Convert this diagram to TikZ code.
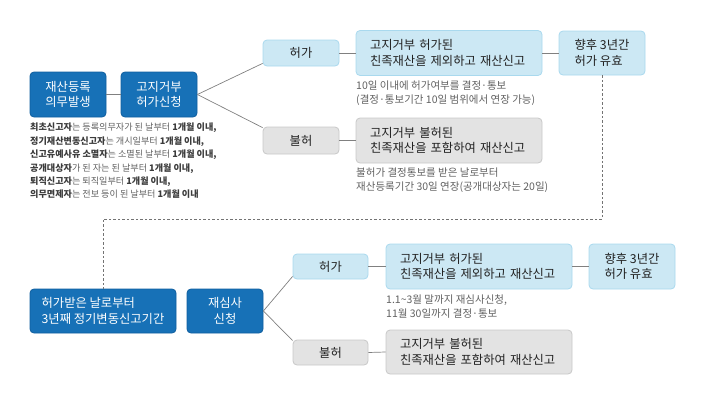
\documentclass[tikz,border=0pt]{standalone}
\usepackage{fontspec}
\setmainfont{Noto Sans CJK KR}
\usepackage{xcolor}
\usetikzlibrary{positioning}
\definecolor{boxblue}{HTML}{1771B7}
\definecolor{boxblueline}{HTML}{0F5E9E}
\definecolor{paleblue}{HTML}{CCE8F4}
\definecolor{paleblueline}{HTML}{A9D9EE}
\definecolor{palegray}{HTML}{E3E3E3}
\definecolor{palegrayline}{HTML}{C8C8C8}
\definecolor{notegray}{HTML}{606060}
\definecolor{boldgray}{HTML}{3C3C3C}
\definecolor{boxtext}{HTML}{222222}
\newcommand{\bt}[1]{{\bfseries\color{boldgray}#1}}

\begin{document}
\begin{tikzpicture}[x=1pt,y=-1pt,
 dark/.style={draw=boxblueline, fill=boxblue, text=white, rounded corners=4pt, line width=0.8pt, inner sep=0pt, minimum height=45pt, align=center, font=\fontsize{12.3}{15.5}\selectfont},
 pale/.style={draw=paleblueline, fill=paleblue, text=boxtext, rounded corners=4pt, line width=0.8pt, inner sep=0pt, align=left, font=\fontsize{12.3}{15.5}\selectfont},
 grey/.style={draw=palegrayline, fill=palegray, text=boxtext, rounded corners=4pt, line width=0.8pt, inner sep=0pt, align=left, font=\fontsize{12.3}{15.5}\selectfont},
 wide/.style={minimum width=186pt, minimum height=45pt, text width=158pt},
 note/.style={anchor=north west, inner sep=0pt, align=left, text=notegray, font=\fontsize{10.5}{14}\selectfont},
 link/.style={draw=gray, line width=0.7pt}]
 \useasboundingbox (0,0) rectangle (718,410); % page size
 % upper row
 \node (reg) at (68,94.5) [dark, minimum width=76pt]{재산등록\\의무발생};
 \node (appl) at (159,94.5) [dark, minimum width=76pt]{고지거부\\허가신청};
 \node (okA) at (301,53) [pale, minimum width=76pt, minimum height=26pt, align=center]{허가};
 \node (noA) at (301,140.5) [grey, minimum width=76pt, minimum height=27pt, align=center]{불허};
 \node (keepA) at (449,53) [pale, wide]{고지거부 허가된\\친족재산을 제외하고 재산신고};
 \node (validA) at (602,53) [pale, minimum width=86pt, minimum height=44pt]{향후 3년간\\허가 유효};
 \node (addA) at (449,140.5) [grey, wide]{고지거부 불허된\\친족재산을 포함하여 재산신고};
 \node (noteA) at (356,81) [note]{10일 이내에 허가여부를 결정·통보\\(결정·통보기간 10일 범위에서 연장 가능)};
 \node (noteB) at (356,168) [note]{불허가 결정통보를 받은 날로부터\\재산등록기간 30일 연장(공개대상자는 20일)};
 \node (dues) at (30,123) [anchor=north west, inner sep=0pt, align=left, text=notegray, font=\fontsize{9.1}{13.4}\selectfont]{%
 \bt{최초신고자}는 등록의무자가 된 날부터 \bt{1개월 이내,}\\
 \bt{정기재산변동신고자}는 개시일부터 \bt{1개월 이내,}\\
 \bt{신고유예사유 소멸자}는 소멸된 날부터 \bt{1개월 이내,}\\
 \bt{공개대상자}가 된 자는 된 날부터 \bt{1개월 이내,}\\
 \bt{퇴직신고자}는 퇴직일부터 \bt{1개월 이내,}\\
 \bt{의무면제자}는 전보 등이 된 날부터 \bt{1개월 이내}};
 % lower row
 \node (period) at (103,311) [dark, minimum width=146pt, minimum height=44pt, align=left]{허가받은 날로부터\\3년째 정기변동신고기간};
 \node (review) at (225,311) [dark, minimum width=76pt, minimum height=44pt]{재심사\\신청};
 \node (okB) at (330.5,266.5) [pale, minimum width=75pt, minimum height=25pt, align=center]{허가};
 \node (noB) at (330.5,352.5) [grey, minimum width=75pt, minimum height=25pt, align=center]{불허};
 \node (keepB) at (479,266.5) [pale, wide]{고지거부 허가된\\친족재산을 제외하고 재산신고};
 \node (validB) at (632,266.5) [pale, minimum width=86pt, minimum height=45pt]{향후 3년간\\허가 유효};
 \node (addB) at (479,352) [grey, wide, minimum height=44pt]{고지거부 불허된\\친족재산을 포함하여 재산신고};
 \node (noteC) at (386,295) [note]{1.1\textasciitilde 3월 말까지 재심사신청,\\11월 30일까지 결정·통보};
 % connectors
 \draw[link] (reg.east) -- (appl.west);
 \foreach \S/\T in {appl/A,review/B}
 {\draw[link] (\S.east) -- ([yshift=3pt]ok\T.south west);
  \draw[link] (\S.east) -- ([yshift=-1pt]no\T.north west);
  \draw[link] (ok\T.east) -- (keep\T.west);
  \draw[link] (keep\T.east) -- (valid\T.west);
  \draw[link] (no\T.east) -- (add\T.west);} % branch lines
 \coordinate (turn) at (602,219);
 \draw[dash pattern=on 2.5pt off 2pt, draw=gray!90!black, line width=0.7pt] (validA.south) -- (turn) -| (period.north); % back to next period
\end{tikzpicture}
\end{document}
